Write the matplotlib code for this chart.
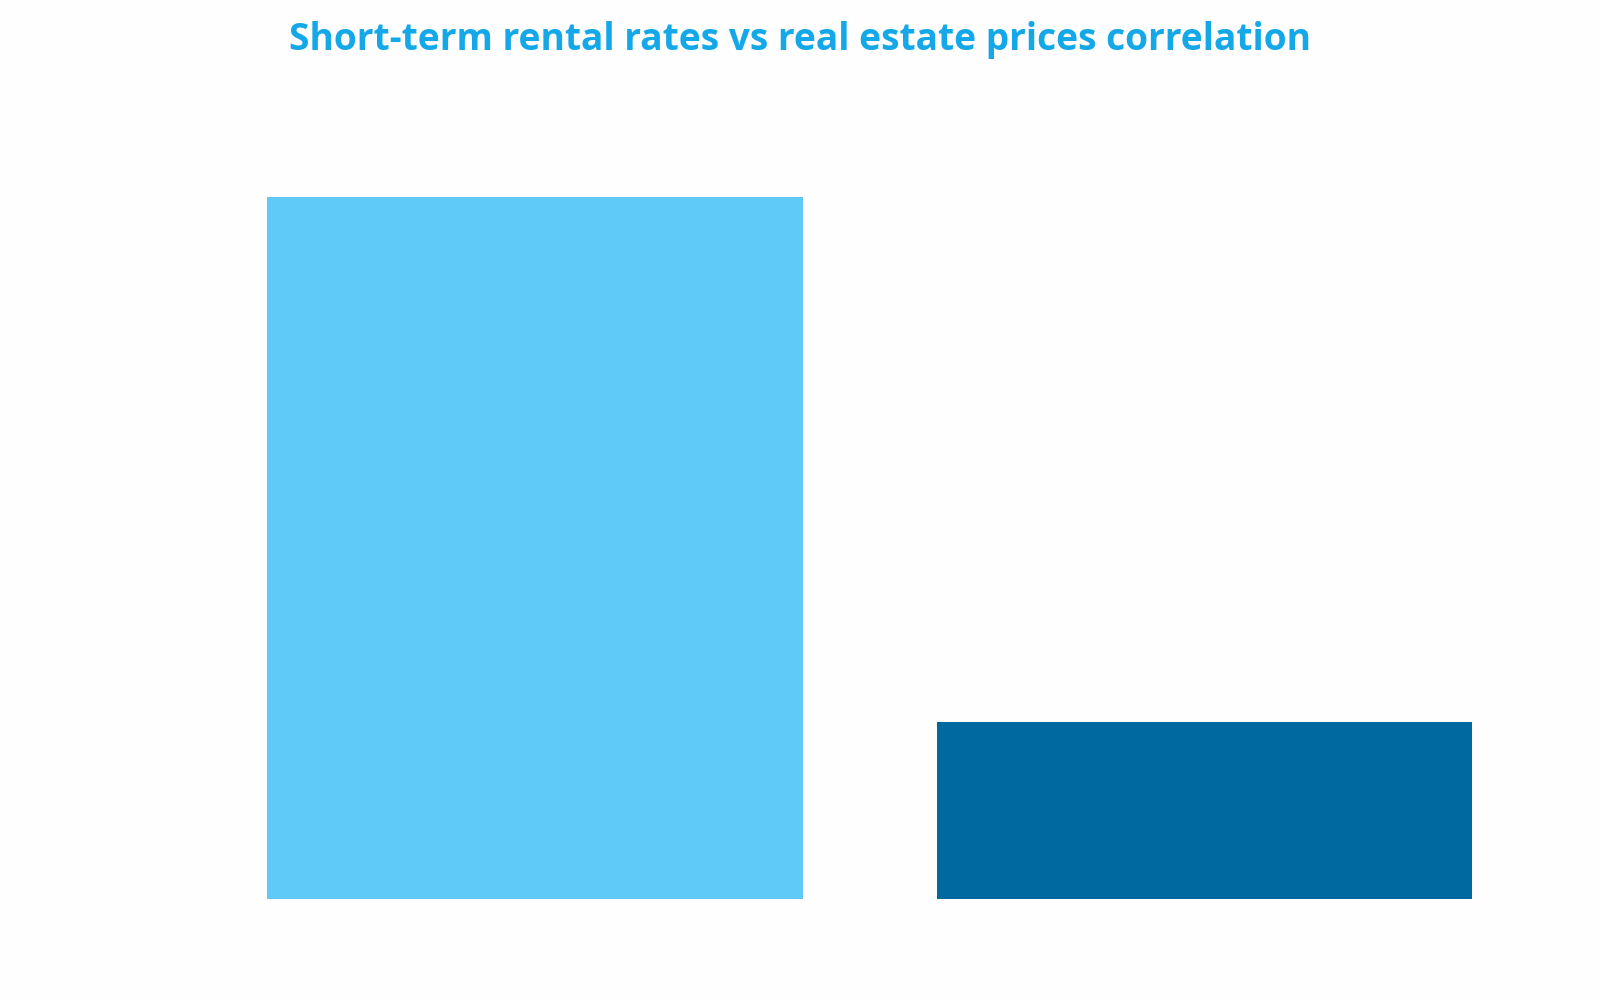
import matplotlib
matplotlib.use("Agg")
import matplotlib.pyplot as plt

categories = ["Short-term rental rates", "Real estate prices"]
values = [4.0, 1.01]
bar_colors = ["#5FC9F8", "#0069A0"]
title = "Short-term rental rates vs real estate prices correlation"

fig = plt.figure(figsize=(16, 10), dpi=100)
fig.patch.set_facecolor("#FEFEFE")
ax = fig.add_axes([0, 0.101, 1, 0.799])
ax.set_facecolor("none")

x = list(range(len(categories)))
ax.bar(x, values, width=0.8, color=bar_colors)

ax.set_xlim(-0.799, 1.591)
ax.set_ylim(0, 4.553)
ax.axis("off")

fig.text(0.5, 0.960, title, ha="center", va="center",
         fontsize=26.7, fontweight="bold", color="#14A8E8",
         family=["Open Sans", "DejaVu Sans"])

fig.savefig("out.png", dpi=100, facecolor=fig.get_facecolor())
